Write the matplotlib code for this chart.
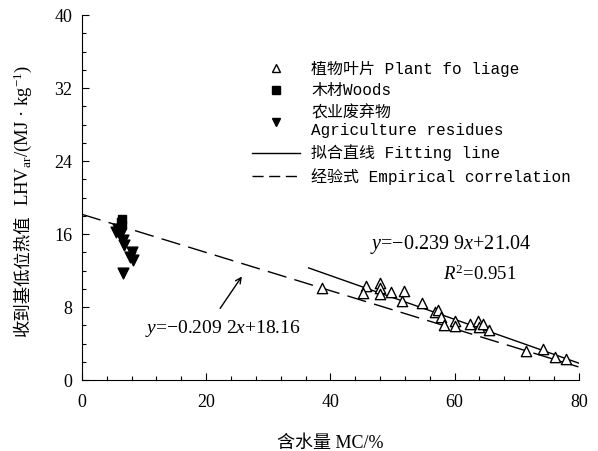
import matplotlib
matplotlib.use("Agg")
import matplotlib.pyplot as plt
import numpy as np
from matplotlib.lines import Line2D
from matplotlib.ticker import MultipleLocator

plt.rcParams['mathtext.fontset'] = 'custom'
plt.rcParams['mathtext.rm'] = 'Liberation Serif'
plt.rcParams['mathtext.it'] = 'Liberation Serif:italic'
plt.rcParams['mathtext.bf'] = 'Liberation Serif:bold'

# Data
foliage_mc = [38.6, 45.7, 48.0, 48.0, 45.3, 48.0, 49.7, 51.9, 51.6, 54.7, 56.8, 57.4,
              57.8, 58.3, 60.1, 60.1, 62.4, 63.7, 64.0, 64.6, 65.6, 71.5, 74.3, 76.2, 78.0]
foliage_lhv = [10.05, 10.3, 10.67, 10.05, 9.5, 9.4, 9.6, 9.8, 8.7, 8.4, 7.5, 7.7,
               6.9, 6.0, 6.5, 5.95, 6.1, 6.5, 5.85, 6.1, 5.5, 3.2, 3.4, 2.55, 2.3]
wood_mc = [6.5, 6.3, 6.5, 6.2]
wood_lhv = [17.6, 17.3, 17.0, 16.7]
agri_mc = [5.85, 5.5, 6.1, 6.55, 6.8, 8.0, 7.8, 8.3, 6.55]
agri_lhv = [16.6, 16.25, 15.9, 15.3, 14.8, 14.06, 13.5, 13.15, 11.7]

fit_slope, fit_intercept = -0.2399, 21.04
fit_range = [36.5, 80.0]
emp_slope, emp_intercept = -0.2092, 18.16
emp_range = [0.0, 80.0]

x_ticks = [0, 20, 40, 60, 80]
y_ticks = [0, 8, 16, 24, 32, 40]

mono_cjk = ['Liberation Mono', 'Noto Sans CJK SC']
serif_cjk = ['Liberation Serif', 'Noto Sans CJK SC']

fig = plt.figure(figsize=(5.98, 4.51), dpi=100)
ax = fig.add_axes([0.137, 0.1574, 0.831, 0.8093])

fx = np.array(fit_range)
ax.plot(fx, fit_slope * fx + fit_intercept, color='black', lw=1.0, zorder=2)
ex = np.array(emp_range)
ax.plot(ex, emp_slope * ex + emp_intercept, color='black', lw=1.0,
        dashes=(14, 6), zorder=2)

ax.scatter(foliage_mc, foliage_lhv, marker='^', s=55, facecolor='white',
           edgecolor='black', linewidth=1.0, zorder=3)
ax.scatter(wood_mc, wood_lhv, marker='s', s=40, color='black', zorder=3)
ax.scatter(agri_mc, agri_lhv, marker='v', s=60, color='black', zorder=3)

ax.set_xlim(0, 80)
ax.set_ylim(0, 40)
ax.set_xticks(x_ticks)
ax.set_yticks(y_ticks)
ax.xaxis.set_minor_locator(MultipleLocator(4))
ax.yaxis.set_minor_locator(MultipleLocator(2))
ax.tick_params(which='both', direction='in', top=False, right=False)
ax.tick_params(which='major', length=5, width=0.8, labelsize=13)
ax.tick_params(axis='x', which='major', pad=10)
ax.tick_params(axis='y', which='major', pad=7)
ax.tick_params(which='minor', length=3, width=0.8)
for lab in ax.get_xticklabels() + ax.get_yticklabels():
    lab.set_fontfamily('Liberation Serif')
ax.spines['top'].set_visible(False)
ax.spines['right'].set_visible(False)

ax.set_xlabel('含水量 MC/%', fontsize=13, family=serif_cjk, labelpad=17)

# y label: Chinese part + serif/math part, stacked along the rotated direction
t1 = fig.text(23 / 598, (451 - 336) / 451, '收到基低位热值', rotation=90,
              fontsize=12.5, family=serif_cjk, ha='center', va='bottom')
fig.canvas.draw()
bb = t1.get_window_extent(fig.canvas.get_renderer())
top_frac = bb.y1 / fig.bbox.height
fig.text(23 / 598, top_frac + 8 / 451,
         'LHV$_{\\mathregular{ar}}$/(MJ · kg$^{\\mathregular{-1}}$)', rotation=90,
         fontsize=13.5, family='Liberation Serif', ha='center', va='bottom')

ax.text(10.1, 5.7, '$\\mathit{y}$=−0.209 2$\\mathit{x}$+18.16', fontsize=14,
        family='Liberation Serif', ha='left', va='center')
ax.annotate('', xy=(26.0, 11.6), xytext=(22.0, 7.6),
            arrowprops=dict(arrowstyle='->', color='black', lw=1.0))
ax.text(46.4, 14.9, '$\\mathit{y}$=−0.239 9$\\mathit{x}$+21.04', fontsize=14.5,
        family='Liberation Serif', ha='left', va='center')
ax.text(58.2, 11.6, '$\\mathit{R}^{2}$=0.951', fontsize=13.5,
        family='Liberation Serif', ha='left', va='center')

handles = [
    Line2D([], [], marker='^', ls='none', mfc='white', mec='black', ms=6),
    Line2D([], [], marker='s', ls='none', color='black', ms=6),
    Line2D([], [], marker='v', ls='none', color='black', ms=6),
    Line2D([], [], color='black', lw=1.0),
    Line2D([], [], color='black', lw=1.0, dashes=(8, 4)),
]
labels = ['植物叶片 Plant fo liage', '木材Woods', '农业废弃物\nAgriculture residues',
          '拟合直线 Fitting line', '经验式 Empirical correlation']
leg = ax.legend(handles, labels, loc='upper left', bbox_to_anchor=(0.33, 0.893),
                frameon=False, handlelength=3.0, handletextpad=0.7,
                labelspacing=0.42, prop={'family': mono_cjk, 'size': 11.5},
                borderaxespad=0)

fig.savefig('out.png', dpi=100)
